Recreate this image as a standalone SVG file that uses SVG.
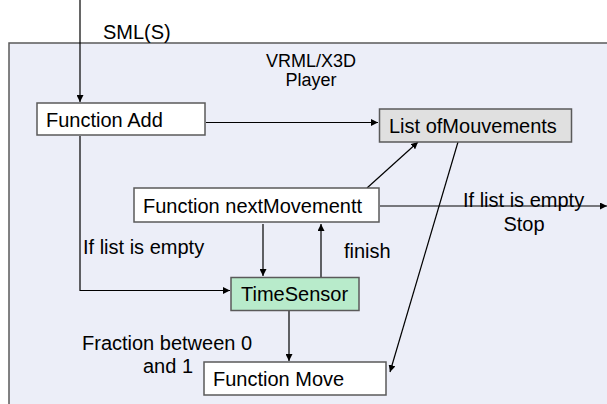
<svg xmlns="http://www.w3.org/2000/svg" width="607" height="404" viewBox="0 0 607 404">
  <defs>
    <marker id="arrow" viewBox="0 0 8 8" refX="8" refY="4" markerWidth="7" markerHeight="7" markerUnits="userSpaceOnUse" orient="auto">
      <path d="M0,0 L8,4 L0,8 z" fill="#000"/>
    </marker>
  </defs>
  <style>
    text { font-family: "Liberation Sans", Arial, sans-serif; font-size: 20px; fill: #000; }
    .box { fill: #ffffff; stroke: #5a5a5a; stroke-width: 1.5; }
    .grey { fill: #e0e0e0; }
    .green { fill: #b8ebcb; }
    .edge { fill: none; stroke: #000; stroke-width: 1.2; }
    .arr { marker-end: url(#arrow); }
  </style>

  <rect width="607" height="404" fill="#ffffff"/>

  <!-- player container -->
  <g id="player">
    <rect x="9" y="43" width="620" height="400" fill="#eceef8" stroke="#5a5a5a" stroke-width="1.5"/>
    <text x="311" y="67" text-anchor="middle" style="font-size:18px">VRML/X3D</text>
    <text x="311" y="86" text-anchor="middle" style="font-size:18px">Player</text>
  </g>

  <!-- connectors -->
  <g id="connectors">
    <line class="edge arr" x1="80" y1="0" x2="80" y2="102"/>
    <line class="edge arr" x1="206" y1="122.5" x2="378" y2="122.5"/>
    <polyline class="edge arr" points="80,136 80,290.5 230,290.5"/>
    <line class="edge arr" x1="263" y1="224" x2="263" y2="276"/>
    <line class="edge arr" x1="321" y1="277" x2="321" y2="224"/>
    <line class="edge arr" x1="367" y1="188" x2="418" y2="142"/>
    <line class="edge arr" x1="458" y1="142" x2="390" y2="372"/>
    <line class="edge arr" x1="380" y1="206" x2="607" y2="206"/>
    <line class="edge arr" x1="289" y1="311" x2="289" y2="361"/>
    <text x="103" y="39">SML(S)</text>
    <text x="463" y="207">If list is empty</text>
    <text x="524" y="231" text-anchor="middle">Stop</text>
    <text x="83" y="254">If list is empty</text>
    <text x="344" y="258">finish</text>
    <text x="82" y="350">Fraction between 0</text>
    <text x="143" y="373">and 1</text>
  </g>

  <g id="function-add">
    <rect class="box" x="37" y="103" width="168" height="32"/>
    <text x="46" y="126.5">Function Add</text>
  </g>

  <g id="list-of-mouvements">
    <rect class="box grey" x="379.5" y="109" width="192" height="33"/>
    <text x="389" y="132.5">List ofMouvements</text>
  </g>

  <g id="function-nextmovementt">
    <rect class="box" x="134" y="188" width="245" height="34"/>
    <text x="143" y="213">Function nextMovementt</text>
  </g>

  <g id="timesensor">
    <rect class="box green" x="231" y="277.5" width="128" height="33"/>
    <text x="241" y="300.5">TimeSensor</text>
  </g>

  <g id="function-move">
    <rect class="box" x="204" y="362" width="182" height="33"/>
    <text x="213" y="386">Function Move</text>
  </g>
</svg>
